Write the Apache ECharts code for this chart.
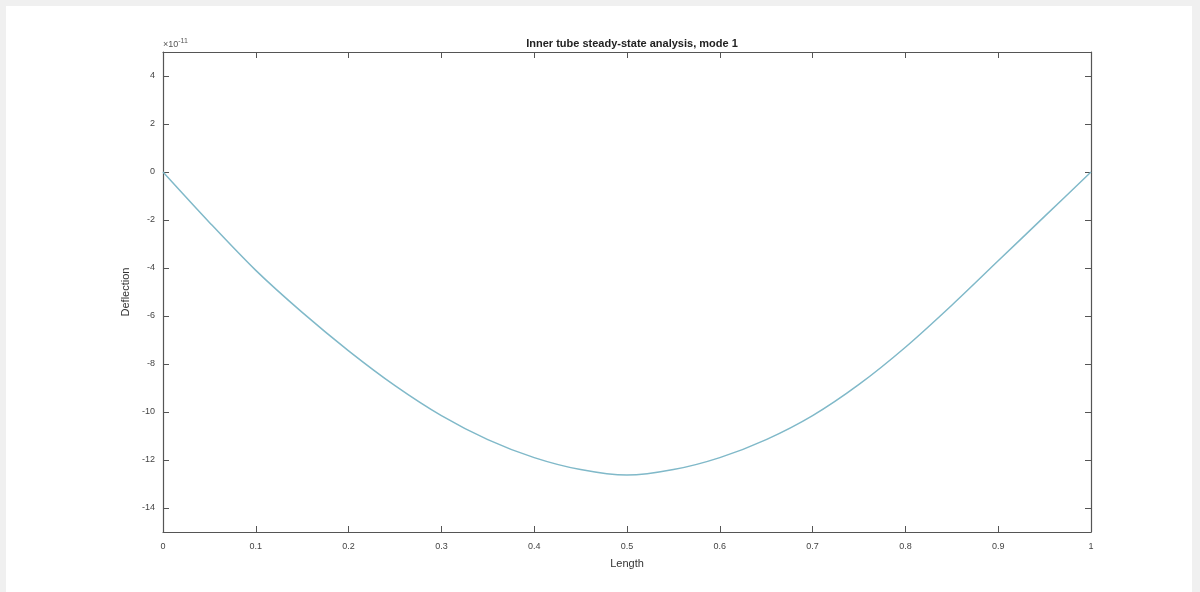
<!DOCTYPE html>
<html>
<head>
<meta charset="utf-8">
<script src="https://cdn.jsdelivr.net/npm/echarts@6/dist/echarts.min.js"></script>
<style>
  html, body { margin: 0; padding: 0; background: #f0f0f0; }
  #paper { position: absolute; left: 6px; top: 6px; width: 1186px; height: 586px; background: #fff; }
  #main { position: absolute; left: 0; top: 0; width: 1200px; height: 592px; }
</style>
</head>
<body>
<div id="paper"></div>
<div id="main"></div>
<script>
// beam length positions and deflection values (x 1e-11)
var lengths = [0, 0.05, 0.1, 0.15, 0.2, 0.25, 0.3, 0.35, 0.4, 0.45, 0.5,
               0.55, 0.6, 0.65, 0.7, 0.75, 0.8, 0.85, 0.9, 0.95, 1];
var deflection = [0, -2.1, -4.1, -5.85, -7.45, -8.9, -10.15, -11.15, -11.9, -12.4, -12.63,
                  -12.4, -11.9, -11.15, -10.15, -8.85, -7.3, -5.55, -3.7, -1.85, 0];
var xTicks = [0, 0.1, 0.2, 0.3, 0.4, 0.5, 0.6, 0.7, 0.8, 0.9, 1];
var yTicks = [-14, -12, -10, -8, -6, -4, -2, 0, 2, 4];

var points = lengths.map(function (x, i) { return [x, deflection[i]]; });

var myChart = echarts.init(document.getElementById('main'));

var axisColor = '#555';
var labelStyle = { color: '#444', fontSize: 9, fontFamily: 'Liberation Sans' };

function xAxisOpt(pos, showLabel) {
    return {
        type: 'value', position: pos, min: 0, max: 1,
        axisLine: { show: true, onZero: false, lineStyle: { color: axisColor, width: 1.2 } },
        axisTick: { show: true, inside: true, length: 6, customValues: xTicks, lineStyle: { color: axisColor } },
        axisLabel: { show: showLabel, customValues: xTicks, margin: 10, textStyle: labelStyle,
                     formatter: function (v) { return String(Math.round(v * 10) / 10); } },
        splitLine: { show: false }
    };
}
function yAxisOpt(pos, showLabel) {
    return {
        type: 'value', position: pos, min: -15, max: 5,
        axisLine: { show: true, onZero: false, lineStyle: { color: axisColor, width: 1.2 } },
        axisTick: { show: true, inside: true, length: 6, customValues: yTicks, lineStyle: { color: axisColor } },
        axisLabel: { show: showLabel, customValues: yTicks, margin: 8, textStyle: labelStyle },
        splitLine: { show: false }
    };
}

var xBottom = xAxisOpt('bottom', true);
xBottom.name = 'Length';
xBottom.nameLocation = 'middle';
xBottom.nameGap = 26;
xBottom.nameTextStyle = { color: '#333', fontSize: 11, fontFamily: 'Liberation Sans' };

var yLeft = yAxisOpt('left', true);
yLeft.name = 'Deflection';
yLeft.nameLocation = 'middle';
yLeft.nameGap = 30;
yLeft.nameTextStyle = { color: '#333', fontSize: 11, fontFamily: 'Liberation Sans' };

myChart.setOption({
    backgroundColor: 'transparent',
    animation: false,
    title: {
        text: 'Inner tube steady-state analysis, mode 1',
        left: 627, top: 33, textAlign: 'center',
        textStyle: { color: '#222', fontSize: 11, fontWeight: 'bold', fontFamily: 'Liberation Sans' }
    },
    grid: { left: 163, right: 109, top: 52, bottom: 60 },
    xAxis: [xBottom, xAxisOpt('top', false)],
    yAxis: [yLeft, yAxisOpt('right', false)],
    graphic: [{
        type: 'text', left: 163, top: 38,
        style: {
            text: '×10{s|-11}',
            fill: '#555', fontSize: 9, fontFamily: 'Liberation Sans',
            rich: { s: { fontSize: 7, verticalAlign: 'top', padding: [0, 0, 6, 0], fill: '#555' } }
        }
    }],
    series: [{
        type: 'line',
        data: points,
        xAxisIndex: 0, yAxisIndex: 0,
        smooth: 0.3,
        showSymbol: false,
        lineStyle: { color: '#80b9c9', width: 1.5 }
    }]
});
</script>
</body>
</html>
